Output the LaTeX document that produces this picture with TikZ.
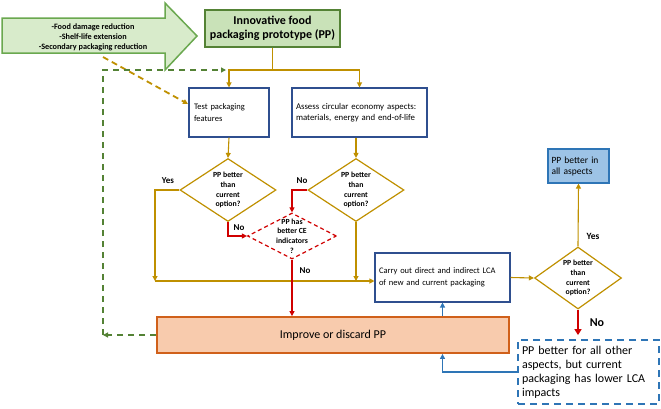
\documentclass[tikz,border=0pt]{standalone}
\usepackage{fontspec}
\setmainfont{Carlito}
\usetikzlibrary{shapes.geometric}
\usetikzlibrary{arrows.meta}

\definecolor{gold}{HTML}{BF9000}
\definecolor{navyline}{HTML}{2F4F8F}
\definecolor{leafline}{HTML}{548235}
\definecolor{leaffill}{HTML}{C9E2B8}
\definecolor{arrowfill}{HTML}{D8EBCB}
\definecolor{arrowline}{HTML}{6AA84F}
\definecolor{redline}{HTML}{D00000}
\definecolor{peach}{HTML}{F8CBAD}
\definecolor{rust}{HTML}{D0601A}
\definecolor{skyfill}{HTML}{9DC3E6}
\definecolor{skyline}{HTML}{2E75B6}

\tikzset{
  tip/.style={-{Triangle[length=5pt,width=5pt]}},
  goldline/.style={draw=gold,line width=1.1pt},
  redarrow/.style={draw=redline,line width=1.1pt},
  greendash/.style={draw=leafline,line width=1.8pt,dash pattern=on 6pt off 5pt},
  stepbox/.style={draw=navyline,line width=1.1pt,fill=white,align=left,
    font=\fontsize{8.5}{11.5}\selectfont,inner sep=4pt},
  question/.style={draw=gold,line width=1.2pt,diamond,minimum width=96pt,
    minimum height=63pt,inner sep=0pt},
  qtext/.style={font=\bfseries\fontsize{7.8}{9.8}\selectfont,align=center},
  answer/.style={font=\bfseries\fontsize{9}{10}\selectfont}
}

\begin{document}
\begin{tikzpicture}[x=1pt,y=-1pt]
  \useasboundingbox (0,0) rectangle (661,408);
  \draw[fill=arrowfill,draw=arrowline,line width=1.5pt]
    (2,18) -- (165,18) -- (165,3) -- (197,36)
    -- (165,70) -- (165,53) -- (2,53) -- cycle;
  \node[font=\bfseries\fontsize{8.2}{10}\selectfont,align=center] (aims) at (93,37)
    {-Food damage reduction\\-Shelf-life extension\\-Secondary packaging reduction};
  \node[draw=leafline,fill=leaffill,line width=1.5pt,font=\bfseries\fontsize{12}{14}\selectfont,
    align=center,minimum width=135pt,minimum height=37pt] (pp) at (272.5,28.5)
    {Innovative food\\packaging prototype (PP)};
  \node[stepbox,minimum width=80pt,minimum height=49pt,text width=70pt] (test) at (229,112.5)
    {Test packaging\\features};
  \node[stepbox,font=\fontsize{8.8}{11.5}\selectfont,minimum width=135pt,minimum height=49pt,
    text width=127pt] (assess) at (359.5,112.5)
    {Assess circular economy aspects:\\materials, energy and end-of-life};
  \node[question,label={[qtext]center:PP better\\than\\current\\option?}] (dec1) at (228,190) {};
  \node[question,label={[qtext]center:PP better\\than\\current\\option?}] (dec2) at (356,190) {};
  \node[draw=redline,line width=1.2pt,dash pattern=on 4pt off 3pt,diamond,minimum width=89pt,
    minimum height=46pt,inner sep=0pt,
    label={[qtext]center:PP has\\better CE\\indicators\\?}] (ce) at (292,236) {};
  \node[stepbox,minimum width=135pt,minimum height=49pt,text width=127pt] (lca) at (442.5,277.5)
    {Carry out direct and indirect LCA\\of new and current packaging};
  \node[question,minimum width=87pt,minimum height=62pt,
    label={[qtext]center:PP better\\than\\current\\option?}] (dec3) at (578,278) {};
  \node[draw=skyline,fill=skyfill,line width=1.1pt,align=left,font=\fontsize{9.5}{11}\selectfont,
    minimum width=61pt,minimum height=34pt,text width=54pt] (allbetter) at (578.5,166)
    {PP better in\\all aspects};
  \node[draw=rust,fill=peach,line width=1.8pt,font=\fontsize{12}{13}\selectfont,
    minimum width=352pt,minimum height=36pt] (improve) at (333,335)
    {Improve or discard PP};
  \node[draw=skyline,line width=1.8pt,dash pattern=on 7pt off 5pt,align=left,
    font=\fontsize{12}{14}\selectfont,minimum width=141pt,minimum height=64pt,
    text width=133pt] (lcaworse) at (588.5,372)
    {PP better for all other\\aspects, but current\\packaging has lower LCA\\impacts};
  \node[answer] (yes1) at (168,181) {Yes};
  \node[answer] (no1) at (239,228) {No};
  \node[answer] (no2) at (302,181) {No};
  \node[answer] (no3) at (305,271) {No};
  \node[answer,font=\bfseries\fontsize{9.5}{10}\selectfont] (yes2) at (593,236) {Yes};
  \node[answer,font=\bfseries\fontsize{12}{13}\selectfont] (no4) at (597,323) {No};
  \coordinate (split) at (272.5,70);
  \coordinate (join) at (155,281);
  \coordinate (hintstart) at (103,57);
  \coordinate (hintend) at (188,104);
  \coordinate (loopdown) at (103,335);
  \coordinate (loopup) at (103,70);
  \draw[goldline] (pp.south) -- (split);
  \draw[goldline,tip] (split) -| (test.north);
  \draw[goldline,tip] (split) -| (assess.north);
  \draw[goldline,tip] (test.south) -- (dec1.north);
  \draw[goldline,tip] (assess.south -| dec2.north) -- (dec2.north);
  \draw[goldline,tip] (dec1.west) -| (join);
  \draw[goldline,tip] (join) -- (lca.west |- join);
  \draw[goldline,tip] (dec2.south) -- (dec2.south |- join);
  \draw[redarrow,tip] (dec1.south) |- (ce.west);
  \draw[redarrow,tip] (dec2.west) -| (ce.north);
  \draw[redarrow,tip] (ce.south) -- (ce.south |- improve.north);
  \draw[goldline,tip] (lca.east) -- (dec3.west);
  \draw[goldline,tip] (dec3.north) -- (allbetter.south);
  \draw[draw=redline,line width=2.2pt,-{Triangle[length=6pt,width=7pt]},shorten >=4pt]
    (dec3.south) -- (dec3.south |- lcaworse.north);
  \draw[draw=skyline,line width=1.3pt,tip] (improve.north -| lca.south) -- (lca.south);
  \draw[draw=skyline,line width=1.3pt,tip] (lcaworse.west) -| (lca.south |- improve.south);
  \draw[goldline,dash pattern=on 6pt off 4pt,line width=1.8pt,tip] (hintstart) -- (hintend);
  \draw[greendash,tip] (improve.west) -- (loopdown);
  \draw[greendash,tip,shorten >=3pt] (loopdown) -- (loopup) -- (split -| test.north);
\end{tikzpicture}
\end{document}
